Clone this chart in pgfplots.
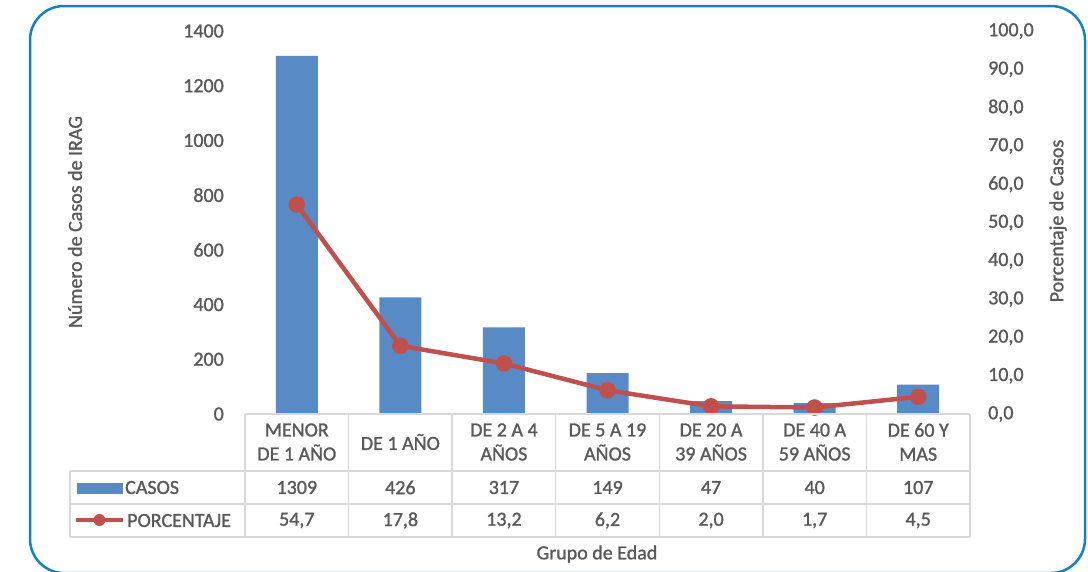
\documentclass[border=0pt]{standalone}
\usepackage{pgfplots}
\pgfplotsset{compat=1.18}
\usepackage{pgfplotstable}
\usepackage{fontspec}
\setmainfont{Carlito}[UprightFeatures={FakeBold=1.2}]
\definecolor{txt}{HTML}{595959}
\definecolor{barc}{RGB}{88,138,198}
\definecolor{linec}{RGB}{192,80,77}
\definecolor{gridc}{HTML}{D9D9D9}
\definecolor{framec}{RGB}{20,130,190}

\pgfplotstableread{
x casos pct
0 1309 54.7
1 426 17.8
2 317 13.2
3 149 6.2
4 47 2.0
5 40 1.7
6 107 4.5
}\datatab

\begin{document}
\begin{tikzpicture}[x=1pt,y=1pt,font=\fontsize{20}{24}\selectfont]
\path[use as bounding box] (0,0) rectangle (1088,-571);
\begin{scope}
\clip (0,0) rectangle (1088,-571);
\draw[framec, line width=2.5pt, rounded corners=34pt] (30,-6) rectangle (1085,-573);
\end{scope}

\pgfplotsset{myax/.style={
  at={(245pt,-414pt)}, anchor=south west, scale only axis,
  width=725pt, height=383pt, xmin=-0.5, xmax=6.5,
  xtick=\empty, axis line style={draw=none}, major tick length=0pt,
  tick label style={font=\fontsize{20}{24}\selectfont, text=txt},
  /pgf/number format/assume math mode=true,
  clip=false}}

\begin{axis}[myax, ymin=0, ymax=1400, ytick={0,200,...,1400},
  /pgf/number format/1000 sep={},
  yticklabel style={inner sep=0pt, anchor=east, xshift=-21pt}]
\addplot[ybar, bar width=42pt, fill=barc, draw=none] table[x=x,y=casos]{\datatab};
\end{axis}

\begin{axis}[myax, ymin=0, ymax=100, ytick={0,10,...,100},
  yticklabel pos=right,
  /pgf/number format/.cd, fixed, fixed zerofill, precision=1, use comma, 1000 sep={},
  /pgfplots/.cd,
  yticklabel style={inner sep=0pt, anchor=west, xshift=18pt}]
\addplot[linec, line width=4.5pt, mark=*, mark size=6pt, mark options={fill=linec, draw=none}] table[x=x,y=pct]{\datatab};
\end{axis}

% data table grid
\begin{scope}[gridc, line width=1.3pt]
\draw (245,-414) -- (970,-414);
\draw (70,-471) -- (970,-471);
\draw (70,-504) -- (970,-504);
\draw (70,-537) -- (970,-537);
\draw (70,-471) -- (70,-537);
\foreach \k in {0,...,7} \draw (245+\k*103.571,-414) -- (245+\k*103.571,-537);
\end{scope}

\begin{scope}[text=txt]
\foreach \lab [count=\i from 0] in {{MENOR\\DE 1 AÑO},{DE 1 AÑO},{DE 2 A 4\\AÑOS},{DE 5 A 19\\AÑOS},{DE 20 A\\39 AÑOS},{DE 40 A\\59 AÑOS},{DE 60 Y\\MAS}}
  \node[align=center, inner sep=0pt, font=\fontsize{20}{24}\selectfont] at (296.8+\i*103.571,-442) {\lab};
\foreach \v [count=\i from 0] in {1309,426,317,149,47,40,107}
  \node[inner sep=0pt] at (296.8+\i*103.571,-487.5) {\v};
\foreach \v [count=\i from 0] in {{54,7},{17,8},{13,2},{6,2},{2,0},{1,7},{4,5}}
  \node[inner sep=0pt] at (296.8+\i*103.571,-520.5) {\v};

\fill[barc] (77,-483) rectangle (123,-494);
\node[anchor=west, inner sep=0pt] at (125,-487.5) {CASOS};
\draw[linec, line width=4.5pt] (76,-520) -- (123,-520);
\fill[linec] (99.5,-520) circle (6pt);
\node[anchor=west, inner sep=0pt] at (127,-520.5) {PORCENTAJE};

\node at (597,-554) {Grupo de Edad};
\node[rotate=90] at (75,-222) {Número de Casos de IRAG};
\node[rotate=90] at (1058,-221) {Porcentaje de Casos};
\end{scope}
\end{tikzpicture}
\end{document}
